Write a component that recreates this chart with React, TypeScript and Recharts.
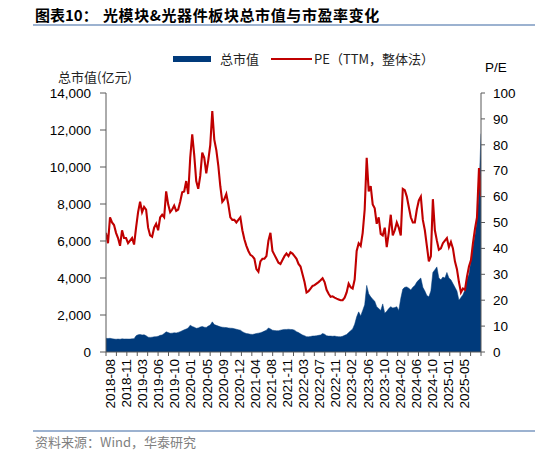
import React from 'react';
import { ComposedChart, Area, Line, XAxis, YAxis } from 'recharts';

// P/E (TTM) readings, one every ~10 trading days, Aug 2018 – Aug 2025
const PE: number[] = [
  46, 42, 52, 50, 49, 46, 44, 41, 47, 44,
  44, 42, 43, 44, 41.5, 48, 54, 58, 54, 56,
  55, 48, 45, 44.5, 48, 49.5, 47, 52, 53, 52,
  62, 57, 54, 55, 56.5, 54.5, 55, 58, 61.7, 62,
  66, 61, 75, 84, 76, 66, 63, 68, 77, 75,
  69, 74, 80, 93, 82, 78, 72, 64, 58, 59,
  61, 57, 52, 51, 51, 50, 51, 52, 47, 43.5,
  41, 39, 37.5, 37, 36, 32, 31, 35, 36, 36,
  37, 43, 46, 39, 37.5, 36, 34.5, 34, 35.5, 37,
  38, 37, 38.5, 38, 37, 36, 34, 33, 30, 27,
  23, 23.5, 24.5, 25.5, 25.8, 26.4, 27, 27.7, 28.5, 27,
  24, 22.5, 21.3, 21.5, 21, 20.6, 20.3, 20, 20, 21,
  23, 26.4, 25, 24.5, 28, 39, 42, 41, 46, 55,
  75, 62, 64, 57, 55.5, 49.5, 52, 45.6, 45, 48,
  40.5, 46, 53, 45, 47, 50, 48, 45, 63, 62.5,
  60, 56, 52, 50, 50, 55, 58.5, 60, 51, 47,
  41, 35, 37, 59, 47, 43, 39.5, 40, 42, 43,
  44, 40.5, 42.5, 40, 35, 32, 27, 23, 24.5, 24,
  29, 33, 35.5, 42, 47.5, 52, 71, 60,
];

// Total market cap (亿元), same sampling
const MARKET_CAP: number[] = [
  740, 730, 740, 720, 700, 690, 700, 690, 710, 700,
  705, 700, 700, 710, 720, 880, 930, 950, 920, 930,
  880, 800, 790, 800, 820, 830, 850, 900, 920, 1000,
  1090, 1050, 1010, 1020, 1040, 1030, 1060, 1100, 1150, 1200,
  1240, 1300, 1450, 1380, 1340, 1280, 1300, 1350, 1380, 1340,
  1330, 1400, 1460, 1630, 1480, 1440, 1400, 1360, 1340, 1330,
  1320, 1300, 1290, 1280, 1260, 1230, 1200, 1180, 1100, 1040,
  1000, 980, 960, 950, 970, 1000, 1020, 1040, 1080, 1130,
  1180, 1300, 1250, 1180, 1160, 1150, 1150, 1180, 1200, 1220,
  1220, 1230, 1220, 1210, 1180, 1100, 1050, 980, 920, 880,
  830, 820, 840, 860, 870, 880, 900, 920, 1000, 960,
  880, 860, 860, 850, 860, 840, 830, 825, 850, 900,
  950, 1050, 1150, 1250, 1500, 1900, 2170, 1950, 2250, 2550,
  3600, 3150, 2980, 2850, 2750, 2450, 2350, 2250, 2600, 2100,
  2200, 2350, 2450, 2380, 2400, 2450, 2250, 2900, 3400, 3500,
  3520, 3450, 3350, 3500, 3600, 3780, 3900, 4000, 3500, 3300,
  3050, 2980, 3300, 4300, 4450, 4600, 4000, 3900, 4050, 4000,
  4300, 4000, 3900, 3700, 3500, 3300, 2800, 2950, 3100, 3350,
  3900, 4200, 4950, 5700, 6300, 7100, 8700, 11800,
];

const X_LABELS: string[] = [
  '2018-08', '2018-11', '2019-03', '2019-06', '2019-10', '2020-01', '2020-05', '2020-09',
  '2020-12', '2021-04', '2021-08', '2021-11', '2022-03', '2022-07', '2022-11', '2023-02',
  '2023-06', '2023-10', '2024-02', '2024-06', '2024-10', '2025-01', '2025-05',
];

const LEFT_TICKS: number[] = [0, 2000, 4000, 6000, 8000, 10000, 12000, 14000];
const RIGHT_TICKS: number[] = [0, 10, 20, 30, 40, 50, 60, 70, 80, 90, 100];

const N = PE.length;
const data = PE.map((pe, i) => ({ i, pe, cap: MARKET_CAP[i] }));

// axis layout: label every ~8 samples, tick mark every 1/36 of the axis
const LABEL_POS = X_LABELS.map((_, k) => 2 + k * 8.03);
const MINOR_POS = Array.from({ length: 37 }, (_, k) => (k * (N - 1)) / 36);
const ALL_TICKS = [...MINOR_POS, ...LABEL_POS];

const FONT = '"Liberation Sans", Arial, sans-serif';
const CJK = '"Noto Sans CJK SC", "Liberation Sans", sans-serif';
const BLUE = '#003A7B';
const RED = '#C00000';
const AXIS = '#595959';

const XTick = (props: any) => {
  const { x, y, payload } = props;
  const li = LABEL_POS.indexOf(payload.value);
  if (li >= 0) {
    return (
      <text
        x={0}
        y={0}
        transform={`translate(${x},${y + 7}) rotate(-90)`}
        textAnchor="end"
        dy="0.36em"
        fontSize={13.5}
        fontFamily={FONT}
        fill="#000"
      >
        {X_LABELS[li]}
      </text>
    );
  }
  return <line x1={x} x2={x} y1={y} y2={y + 4} stroke={AXIS} strokeWidth={1} />;
};

export default function App() {
  return (
    <div style={{ position: 'absolute', left: 0, top: 0, width: 535, height: 455, background: '#fff', overflow: 'hidden' }}>
      <div style={{ position: 'absolute', left: 35, top: 4, fontFamily: CJK, fontSize: 15, fontWeight: 700, lineHeight: '22px', color: '#000', whiteSpace: 'nowrap' }}>
        图表10：
      </div>
      <div style={{ position: 'absolute', left: 103, top: 4, fontFamily: CJK, fontSize: 15, fontWeight: 700, lineHeight: '22px', color: '#000', whiteSpace: 'nowrap', letterSpacing: 0.6 }}>
        光模块&amp;光器件板块总市值与市盈率变化
      </div>
      <div style={{ position: 'absolute', left: 33, top: 24, width: 502, height: 1.5, background: '#9CB2D0' }} />

      {/* legend */}
      <div style={{ position: 'absolute', left: 173, top: 56, width: 38, height: 6, background: BLUE }} />
      <div style={{ position: 'absolute', left: 220, top: 50, fontFamily: CJK, fontSize: 13, lineHeight: '18px', color: '#222', whiteSpace: 'nowrap' }}>总市值</div>
      <div style={{ position: 'absolute', left: 271, top: 58, width: 41, height: 2, background: RED }} />
      <div style={{ position: 'absolute', left: 314, top: 50, fontFamily: CJK, fontSize: 13, lineHeight: '18px', color: '#222', whiteSpace: 'nowrap' }}>PE（TTM，整体法）</div>

      {/* axis titles */}
      <div style={{ position: 'absolute', left: 58, top: 68, fontFamily: CJK, fontSize: 13, lineHeight: '18px', color: '#222', whiteSpace: 'nowrap' }}>总市值(亿元)</div>
      <div style={{ position: 'absolute', left: 485, top: 59, fontFamily: FONT, fontSize: 13.5, lineHeight: '18px', color: '#000', whiteSpace: 'nowrap' }}>P/E</div>

      <div style={{ position: 'absolute', left: 0, top: 0 }}>
        <ComposedChart width={535} height={455} data={data} margin={{ top: 93, right: 4, bottom: 43, left: 56 }} style={{ fontFamily: FONT }}>
          <XAxis
            dataKey="i"
            type="number"
            domain={[0, N - 1]}
            ticks={ALL_TICKS}
            interval={0}
            tick={<XTick />}
            tickLine={false}
            tickSize={0}
            tickMargin={0}
            height={60}
            axisLine={{ stroke: AXIS, strokeWidth: 1 }}
            allowDataOverflow
          />
          <YAxis
            yAxisId="left"
            orientation="left"
            domain={[0, 14000]}
            ticks={LEFT_TICKS}
            interval={0}
            width={50}
            tickSize={6}
            tickMargin={9}
            tickFormatter={(v: number) => v.toLocaleString('en-US')}
            tick={{ fontSize: 13.5, fill: '#000', fontFamily: FONT }}
            tickLine={{ stroke: AXIS }}
            axisLine={{ stroke: AXIS, strokeWidth: 1 }}
          />
          <YAxis
            yAxisId="right"
            orientation="right"
            domain={[0, 100]}
            ticks={RIGHT_TICKS}
            interval={0}
            width={50}
            tickSize={4}
            tickMargin={8}
            tick={{ fontSize: 13.5, fill: '#000', fontFamily: FONT }}
            tickLine={{ stroke: AXIS }}
            axisLine={{ stroke: AXIS, strokeWidth: 1 }}
          />
          <Area
            yAxisId="left"
            dataKey="cap"
            type="linear"
            fill={BLUE}
            fillOpacity={1}
            stroke={BLUE}
            strokeWidth={0.5}
            dot={false}
            activeDot={false}
            isAnimationActive={false}
          />
          <Line
            yAxisId="right"
            dataKey="pe"
            type="linear"
            stroke={RED}
            strokeWidth={2.1}
            dot={false}
            activeDot={false}
            isAnimationActive={false}
          />
        </ComposedChart>
      </div>

      <div style={{ position: 'absolute', left: 33, top: 430, width: 502, height: 1.5, background: '#9CB2D0' }} />
      <div style={{ position: 'absolute', left: 35, top: 433, fontFamily: CJK, fontSize: 13, lineHeight: '18px', color: '#808080', whiteSpace: 'nowrap' }}>
        资料来源：Wind，华泰研究
      </div>
    </div>
  );
}
